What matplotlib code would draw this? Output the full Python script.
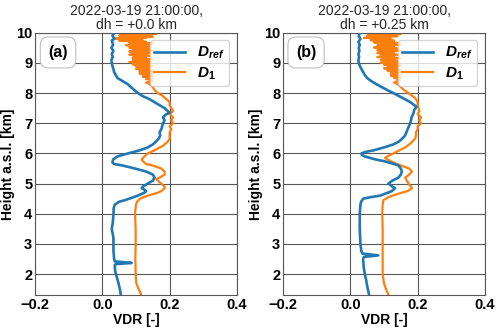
import numpy as np
import matplotlib
matplotlib.use('Agg')
import matplotlib.pyplot as plt

plt.rcParams['font.family'] = ['Liberation Sans', 'DejaVu Sans']
plt.rcParams['mathtext.fontset'] = 'custom'
plt.rcParams['mathtext.it'] = 'Liberation Sans:bold:italic'
plt.rcParams['mathtext.rm'] = 'Liberation Sans:bold'

# ---- data ----
titles = ['2022-03-19 21:00:00,\ndh = +0.0 km', '2022-03-19 21:00:00,\ndh = +0.25 km']
labels = ['(a)', '(b)']

# D_ref, panel a
h_ref_a = [10.0, 9.9, 9.8, 9.75, 9.6, 9.5, 9.4, 9.3, 9.2, 9.1, 9.0, 8.9, 8.8, 8.7, 8.6, 8.5,
           8.4, 8.3, 8.2, 8.1, 8.0, 7.9, 7.8, 7.7, 7.6, 7.5, 7.4, 7.35, 7.3, 7.2, 7.1, 7.0,
           6.9, 6.8, 6.7, 6.6, 6.5, 6.4, 6.3, 6.2, 6.1, 6.0, 5.9, 5.8, 5.7, 5.65, 5.6, 5.5,
           5.4, 5.35, 5.3, 5.2, 5.1, 5.0, 4.9, 4.85, 4.8, 4.75, 4.7, 4.6, 4.5, 4.45, 4.4, 4.3,
           4.2, 4.0, 3.7, 3.5, 3.2, 2.8, 2.5, 2.42, 2.37, 2.33, 2.3, 2.1, 1.9, 1.7, 1.5, 1.3]
v_ref_a = [0.035, 0.030, 0.036, 0.028, 0.032, 0.027, 0.033, 0.028, 0.031, 0.027, 0.028, 0.030,
           0.033, 0.035, 0.040, 0.045, 0.060, 0.075, 0.085, 0.095, 0.106, 0.120, 0.140, 0.155,
           0.170, 0.185, 0.195, 0.200, 0.190, 0.180, 0.185, 0.180, 0.178, 0.175, 0.170, 0.172,
           0.168, 0.160, 0.150, 0.135, 0.110, 0.076, 0.045, 0.032, 0.030, 0.035, 0.060, 0.097,
           0.130, 0.140, 0.150, 0.155, 0.150, 0.135, 0.120, 0.117, 0.125, 0.130, 0.125, 0.105,
           0.080, 0.067, 0.050, 0.037, 0.034, 0.033, 0.031, 0.028, 0.033, 0.033, 0.035, 0.037,
           0.087, 0.040, 0.037, 0.038, 0.043, 0.048, 0.052, 0.055]

# D_1, panel a (noisy top part between 10 and 8.45 km, then smoother)
d1_top_a = [0.12, 0.06, 0.16, 0.09, 0.14, 0.05, 0.11, 0.15, 0.08, 0.13, 0.04, 0.10, 0.07, 0.12,
            0.05, 0.09, 0.13, 0.08, 0.11, 0.15, 0.09, 0.12, 0.07, 0.14, 0.10, 0.13, 0.08, 0.11,
            0.14, 0.09, 0.12, 0.10, 0.15, 0.08, 0.12, 0.11, 0.14, 0.09, 0.13, 0.08, 0.12, 0.14,
            0.10, 0.12, 0.09, 0.13, 0.11, 0.15, 0.09, 0.12, 0.10, 0.14, 0.08, 0.12, 0.11, 0.14,
            0.09, 0.13, 0.12, 0.15, 0.10, 0.13, 0.11, 0.14, 0.10, 0.13, 0.12, 0.15, 0.11, 0.13,
            0.12, 0.14, 0.11, 0.15, 0.12, 0.14, 0.13, 0.15, 0.12, 0.14, 0.13, 0.15, 0.13, 0.14]
h_d1_low_a = [8.4, 8.35, 8.3, 8.2, 8.1, 8.0, 7.9, 7.8, 7.7, 7.6, 7.5, 7.4, 7.3, 7.2, 7.1,
              7.0, 6.9, 6.8, 6.7, 6.6, 6.5, 6.4, 6.3, 6.25, 6.2, 6.1, 6.0, 5.9, 5.8, 5.75,
              5.65, 5.6, 5.5, 5.4, 5.3, 5.2, 5.15, 5.1, 5.0, 4.9, 4.85, 4.75, 4.7, 4.6, 4.5,
              4.4, 4.3, 4.0, 3.5, 3.0, 2.5, 2.0, 1.7, 1.5, 1.3]
v_d1_low_a = [0.15, 0.13, 0.14, 0.15, 0.155, 0.165, 0.18, 0.19, 0.20, 0.20, 0.205, 0.21,
              0.20, 0.21, 0.205, 0.21, 0.20, 0.205, 0.20, 0.20, 0.20, 0.195, 0.185, 0.18, 0.17,
              0.155, 0.135, 0.125, 0.117, 0.12, 0.13, 0.15, 0.175, 0.185, 0.185, 0.17, 0.16,
              0.165, 0.175, 0.185, 0.185, 0.175, 0.165, 0.135, 0.112, 0.103, 0.10, 0.097,
              0.099, 0.099, 0.098, 0.099, 0.101, 0.108, 0.116]

# D_ref, panel b
h_ref_b = [10.0, 9.9, 9.8, 9.7, 9.6, 9.5, 9.4, 9.3, 9.2, 9.1, 9.0, 8.9, 8.8, 8.7, 8.6, 8.5,
           8.4, 8.3, 8.2, 8.1, 8.0, 7.9, 7.8, 7.7, 7.6, 7.55, 7.45, 7.35, 7.2, 7.1, 7.0, 6.8,
           6.6, 6.5, 6.4, 6.3, 6.2, 6.1, 6.05, 6.0, 5.95, 5.9, 5.8, 5.75, 5.65, 5.6, 5.5, 5.4,
           5.3, 5.2, 5.1, 5.0, 4.9, 4.85, 4.75, 4.65, 4.6, 4.55, 4.5, 4.4, 4.3, 4.0, 3.5, 3.0,
           2.75, 2.68, 2.62, 2.57, 2.5, 2.2, 2.0, 1.8, 1.6, 1.3]
v_ref_b = [0.028, 0.025, 0.030, 0.024, 0.028, 0.025, 0.027, 0.024, 0.026, 0.024, 0.025, 0.028,
           0.033, 0.038, 0.043, 0.050, 0.062, 0.077, 0.093, 0.110, 0.128, 0.145, 0.162, 0.178,
           0.190, 0.197, 0.190, 0.188, 0.182, 0.180, 0.178, 0.170, 0.163, 0.155, 0.145, 0.128,
           0.100, 0.068, 0.045, 0.033, 0.035, 0.043, 0.075, 0.098, 0.130, 0.143, 0.150, 0.153,
           0.150, 0.143, 0.125, 0.113, 0.125, 0.133, 0.123, 0.100, 0.088, 0.060, 0.038, 0.032,
           0.030, 0.028, 0.028, 0.030, 0.033, 0.036, 0.083, 0.040, 0.038, 0.040, 0.043, 0.047,
           0.050, 0.056]

# D_1, panel b
d1_top_b = [0.13, 0.07, 0.15, 0.10, 0.12, 0.05, 0.14, 0.09, 0.11, 0.04, 0.12, 0.08, 0.10,
            0.06, 0.13, 0.09, 0.12, 0.07, 0.14, 0.10, 0.11, 0.15, 0.08, 0.12, 0.09, 0.13,
            0.07, 0.11, 0.14, 0.10, 0.12, 0.08, 0.15, 0.09, 0.11, 0.13, 0.08, 0.12, 0.10,
            0.14, 0.09, 0.13, 0.11, 0.08, 0.12, 0.15, 0.10, 0.13, 0.09, 0.12, 0.14, 0.10,
            0.12, 0.09, 0.14, 0.11, 0.13, 0.10, 0.15, 0.11, 0.13, 0.12, 0.14, 0.10, 0.13,
            0.12, 0.15, 0.11, 0.14, 0.12, 0.13, 0.15, 0.12, 0.14, 0.13, 0.15, 0.12, 0.14,
            0.13, 0.15, 0.13, 0.14, 0.14, 0.15]
h_d1_low_b = [8.4, 8.35, 8.3, 8.2, 8.1, 8.0, 7.9, 7.8, 7.7, 7.6, 7.5, 7.4, 7.3, 7.2, 7.1,
              7.0, 6.9, 6.8, 6.7, 6.6, 6.5, 6.4, 6.3, 6.2, 6.1, 6.0, 5.9, 5.85, 5.8, 5.7, 5.6,
              5.55, 5.5, 5.4, 5.3, 5.2, 5.1, 5.0, 4.9, 4.85, 4.75, 4.7, 4.6, 4.55, 4.45, 4.3,
              4.0, 3.5, 3.0, 2.5, 2.0, 1.7, 1.5, 1.3]
v_d1_low_b = [0.14, 0.13, 0.14, 0.15, 0.16, 0.173, 0.185, 0.195, 0.20, 0.20, 0.203, 0.205,
              0.20, 0.21, 0.205, 0.21, 0.20, 0.20, 0.195, 0.195, 0.193, 0.185, 0.175, 0.163,
              0.145, 0.128, 0.11, 0.103, 0.11, 0.128, 0.15, 0.163, 0.175, 0.183, 0.175, 0.163,
              0.168, 0.173, 0.18, 0.183, 0.17, 0.153, 0.125, 0.113, 0.098, 0.096, 0.095,
              0.096, 0.096, 0.096, 0.096, 0.10, 0.106, 0.114]

h_top_a = np.linspace(10.0, 8.45, len(d1_top_a))
h_top_b = np.linspace(10.0, 8.45, len(d1_top_b))

panels = [
    (h_ref_a, v_ref_a, np.concatenate([h_top_a, h_d1_low_a]), np.concatenate([d1_top_a, v_d1_low_a])),
    (h_ref_b, v_ref_b, np.concatenate([h_top_b, h_d1_low_b]), np.concatenate([d1_top_b, v_d1_low_b])),
]

fig = plt.figure(figsize=(5.0, 3.28), dpi=100)
positions = [[0.07, 0.10, 0.404, 0.80], [0.566, 0.10, 0.404, 0.80]]

for i, (hr, vr, h1, v1) in enumerate(panels):
    ax = fig.add_axes(positions[i])
    ax.plot(vr, hr, color='#1f77b4', lw=1.9, label=r'$D_{ref}$', zorder=3)
    ax.plot(v1, h1, color='#ff7f0e', lw=1.6, label=r'$D_\mathrm{1}$', zorder=2)
    ax.set_xlim(-0.2, 0.4)
    ax.set_ylim(1.3, 10)
    ax.set_xticks([-0.2, 0.0, 0.2, 0.4])
    ax.set_yticks(range(2, 11))
    ax.grid(True, color='0.35', lw=0.8)
    ax.set_axisbelow(True)
    for s in ax.spines.values():
        s.set_color('0.35')
    ax.tick_params(length=0, labelsize=10.5, pad=2)
    for t in ax.get_xticklabels() + ax.get_yticklabels():
        t.set_fontweight('bold')
    ax.set_xlabel('VDR [-]', fontsize=10, fontweight='bold', labelpad=1)
    ax.set_ylabel('Height a.s.l. [km]', fontsize=10, fontweight='bold', labelpad=1)
    ax.set_title(titles[i], fontsize=10, pad=3, linespacing=1.0, color='0.15')
    ax.text(0.114, 0.925, labels[i], transform=ax.transAxes, fontsize=11.5, fontweight='bold',
            ha='center', va='center',
            bbox=dict(boxstyle='round,pad=0.5', fc='white', ec='0.75', lw=0.8))
    ax.legend(loc='upper right', fontsize=11, handlelength=2.0, borderpad=0.3,
              labelspacing=0.25, framealpha=0.8, fancybox=True)

fig.savefig('out.png', dpi=100)
